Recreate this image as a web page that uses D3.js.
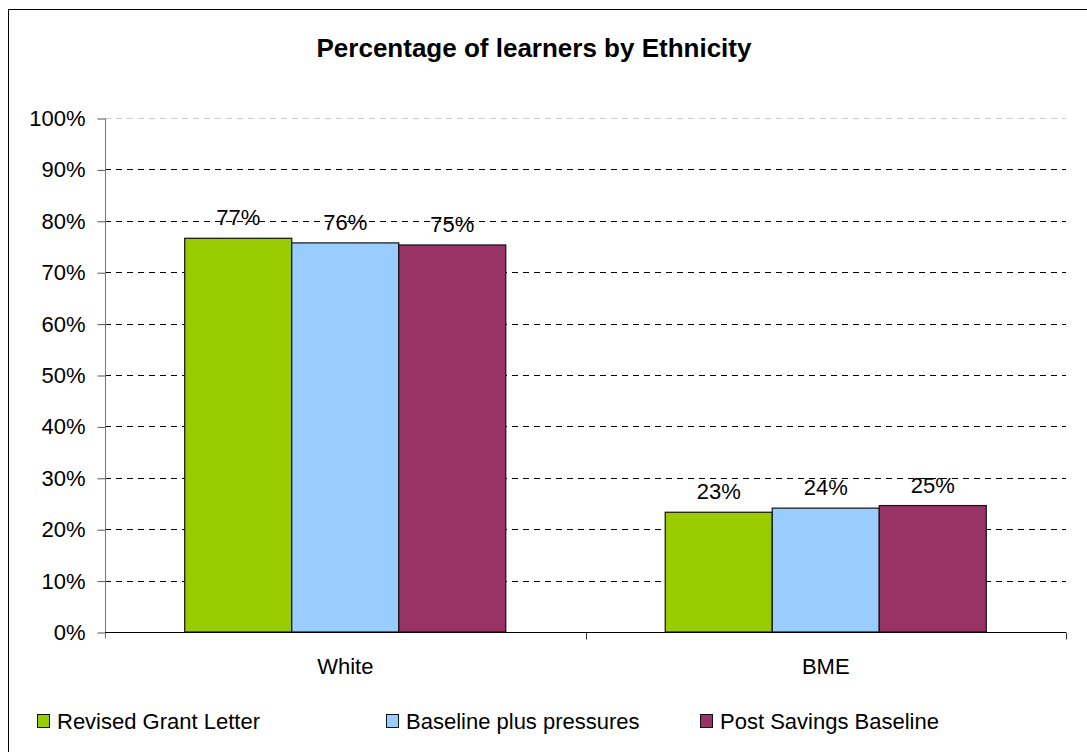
<!DOCTYPE html>
<html>
<head>
<meta charset="utf-8">
<script src="https://cdn.jsdelivr.net/npm/d3@7"></script>
<style>
  body { margin: 0; background: #fff; }
  text { font-family: "Liberation Sans", Arial, sans-serif; fill: #000; }
</style>
</head>
<body>
<svg id="chart" width="1087" height="752"></svg>
<script>
// chart data
const categories = ['White', 'BME'];
const seriesNames = ['Revised Grant Letter', 'Baseline plus pressures', 'Post Savings Baseline'];
const seriesColors = ['#99CC00', '#99CCFF', '#993366'];
const revisedGrant = [0.766, 0.233];
const baselinePressures = [0.757, 0.241];
const postSavings = [0.753, 0.246];
const yTicks = [0, 0.1, 0.2, 0.3, 0.4, 0.5, 0.6, 0.7, 0.8, 0.9, 1];

const seriesValues = [revisedGrant, baselinePressures, postSavings];
const fontFamily = '"Liberation Sans", Arial, sans-serif';

let svg = d3.select('#chart');

// outer frame
svg.append('rect')
    .attr('x', 8.5).attr('y', 9.5)
    .attr('width', 1100).attr('height', 760)
    .attr('fill', 'none')
    .attr('stroke', '#000')
    .attr('stroke-width', 1);

svg.append('text')
    .attr('x', 534).attr('y', 57)
    .attr('text-anchor', 'middle')
    .style('font-size', '26px')
    .style('font-weight', 'bold')
    .text('Percentage of learners by Ethnicity');

let plotLeft = 105, plotRight = 1066, plotTop = 118, plotBottom = 632;

let x0 = d3.scaleBand()
    .domain(categories)
    .range([plotLeft, plotRight]);

let x1 = d3.scaleBand()
    .domain(seriesNames)
    .range([0, x0.bandwidth()])
    .paddingOuter(0.745);

let y = d3.scaleLinear()
    .domain([0, 1])
    .range([plotBottom, plotTop]);

// gridlines
svg.append('g')
    .selectAll('line')
    .data(yTicks.filter(d => d > 0))
    .enter().append('line')
    .attr('x1', plotLeft).attr('x2', plotRight)
    .attr('y1', d => Math.round(y(d)) + 0.5)
    .attr('y2', d => Math.round(y(d)) + 0.5)
    .attr('stroke', d => d === 1 ? '#cccccc' : '#000')
    .attr('stroke-dasharray', '6,5');

// y axis
let yAxis = d3.axisLeft(y)
    .tickValues(yTicks)
    .tickFormat(d3.format('.0%'))
    .tickSize(8)
    .tickPadding(12);

let yg = svg.append('g')
    .attr('transform', `translate(${plotLeft + 0.5},0.5)`)
    .call(yAxis);
yg.select('.domain').remove();
yg.selectAll('.tick line').attr('stroke', '#555');
yg.selectAll('text').style('font-size', '22px').style('font-family', fontFamily);
yg.append('line')
    .attr('x1', 0).attr('x2', 0)
    .attr('y1', plotTop).attr('y2', plotBottom + 6)
    .attr('stroke', '#777');

// bars
let groups = svg.append('g')
    .selectAll('g')
    .data(categories)
    .enter().append('g')
    .attr('transform', d => `translate(${x0(d)},0)`);

groups.selectAll('rect')
    .data((d, i) => seriesNames.map((s, j) => ({ s: s, v: seriesValues[j][i], c: seriesColors[j] })))
    .enter().append('rect')
    .attr('x', d => x1(d.s))
    .attr('y', d => y(d.v))
    .attr('width', x1.bandwidth())
    .attr('height', d => plotBottom - y(d.v))
    .attr('fill', d => d.c)
    .attr('stroke', '#111')
    .attr('stroke-width', 1.2);

groups.selectAll('text')
    .data((d, i) => seriesNames.map((s, j) => ({ s: s, v: seriesValues[j][i] })))
    .enter().append('text')
    .attr('x', d => x1(d.s) + x1.bandwidth() / 2)
    .attr('y', d => y(d.v) - 13)
    .attr('text-anchor', 'middle')
    .style('font-size', '22px')
    .text(d => d3.format('.0%')(d.v));

// x axis
let xAxis = d3.axisBottom(x0).tickSize(0).tickPadding(26);
let xg = svg.append('g')
    .attr('transform', `translate(0,${plotBottom + 0.5})`)
    .call(xAxis);
xg.select('.domain').attr('d', `M${plotLeft},0H${plotRight}`).attr('stroke', '#000');
xg.selectAll('text').style('font-size', '22px').style('font-family', fontFamily);
xg.selectAll('.sep')
    .data([x0.range()[0] + x0.bandwidth(), plotRight])
    .enter().append('line')
    .attr('class', 'sep')
    .attr('x1', d => Math.round(d) + 0.5).attr('x2', d => Math.round(d) + 0.5)
    .attr('y1', 0).attr('y2', 7)
    .attr('stroke', '#333');

// legend
let legendX = [37, 386, 700];
let legend = svg.append('g')
    .selectAll('g')
    .data(seriesNames)
    .enter().append('g')
    .attr('transform', (d, i) => `translate(${legendX[i]},714)`);

legend.append('rect')
    .attr('x', 0.5).attr('y', 0.5)
    .attr('width', 12).attr('height', 13)
    .attr('fill', (d, i) => seriesColors[i])
    .attr('stroke', '#111');

legend.append('text')
    .attr('x', 20).attr('y', 15)
    .style('font-size', '22px')
    .text(d => d);
</script>
</body>
</html>
